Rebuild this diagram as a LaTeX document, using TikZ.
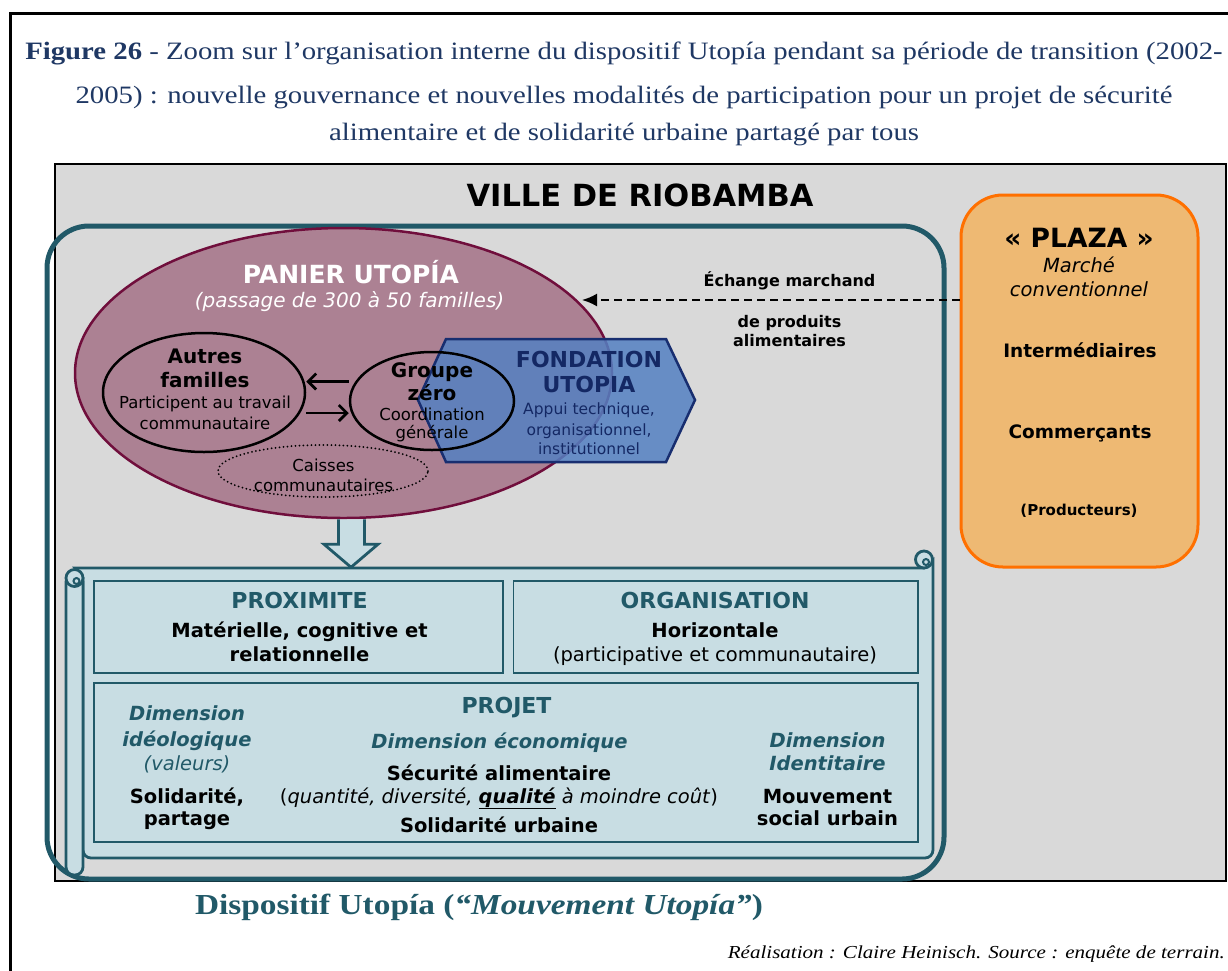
\documentclass[tikz,border=0pt]{standalone}
\usepackage{fontspec}
\setmainfont[FakeStretch=1.15]{Liberation Serif}
\setsansfont{DejaVu Sans}
\usetikzlibrary{arrows.meta,shapes.geometric}

\definecolor{titleblue}{RGB}{31,56,100}
\definecolor{dispteal}{RGB}{33,89,104}
\definecolor{villegray}{RGB}{217,217,217}
\definecolor{panierfill}{RGB}{172,129,147}
\definecolor{panierline}{RGB}{112,14,60}
\definecolor{fondfill}{RGB}{84,128,194}
\definecolor{fondline}{RGB}{24,46,112}
\definecolor{fondtext}{RGB}{20,40,100}
\definecolor{plazafill}{RGB}{238,185,115}
\definecolor{plazaline}{RGB}{255,112,0}
\definecolor{scrollfill}{RGB}{200,221,227}

\newcommand{\fsz}[1]{\fontsize{#1}{#1}\selectfont}

\tikzset{
  every node/.style={inner sep=0pt, anchor=base},
  titleline/.style={text=titleblue, font=\rmfamily\fsz{25}},
  villetxt/.style={font=\sffamily\bfseries\fsz{30.5}},
  panierhead/.style={text=white, font=\sffamily\bfseries\fsz{25}},
  paniersub/.style={text=white, font=\sffamily\itshape\fsz{20}},
  famhead/.style={font=\sffamily\bfseries\fsz{20}},
  famtxt/.style={font=\sffamily\fsz{16.5}},
  fondhead/.style={text=fondtext, font=\sffamily\bfseries\fsz{22}},
  fondtxt/.style={text=fondtext, font=\sffamily\fsz{15.5}},
  echtxt/.style={font=\sffamily\bfseries\fsz{16}},
  plazahead/.style={font=\sffamily\bfseries\fsz{26.5}},
  plazasub/.style={font=\sffamily\itshape\fsz{19.5}},
  plazatxt/.style={font=\sffamily\bfseries\fsz{18.5}},
  scrollhead/.style={text=dispteal, font=\sffamily\bfseries\fsz{22}},
  scrollbold/.style={font=\sffamily\bfseries\fsz{19.5}},
  scrolltxt/.style={font=\sffamily\fsz{19.5}},
  dimhead/.style={text=dispteal, font=\sffamily\bfseries\itshape\fsz{19.5}},
  disptxt/.style={text=dispteal, font=\rmfamily\bfseries\fsz{29}},
  scrollshape/.style={fill=scrollfill, draw=dispteal, line width=2.8pt},
  innerbox/.style={fill=scrollfill, draw=dispteal, line width=1.8pt},
  famarrow/.style={line width=2.8pt, -{Straight Barb[length=8pt,width=16pt]}},
  echarrow/.style={line width=2pt, dash pattern=on 8pt off 5pt, -{Latex[length=15pt,width=13pt]}},
}

\begin{document}
\begin{tikzpicture}[x=1pt, y=-1pt]
  \useasboundingbox (0,0) rectangle (1228,970);

  % ---- Cadre et titre ----
  \draw[line width=3pt] (10,972) -- (10,13) -- (1232,13);
  \node[titleline] (title1) at (624,59) {\textbf{Figure 26} - Zoom sur l’organisation interne du dispositif Utopía pendant sa période de transition (2002-};
  \node[titleline] (title2) at (624,103) {2005) : nouvelle gouvernance et nouvelles modalités de participation pour un projet de sécurité};
  \node[titleline] (title3) at (624,140) {alimentaire et de solidarité urbaine partagé par tous};

  % ---- Ville de Riobamba ----
  \filldraw[fill=villegray, draw=black, line width=2pt] (55,164) rectangle (1226,881);
  \node[villetxt] (ville) at (640,206) {VILLE DE RIOBAMBA};

  % ---- Dispositif Utopia ----
  \draw[dispteal, line width=5pt, rounded corners=42pt] (47,226) rectangle (944,879);

  % ---- Panier Utopia ----
  \node[ellipse, draw=panierline, line width=2.5pt, fill=panierfill,
        minimum width=537pt, minimum height=290pt, anchor=center] (panier) at (343.5,373) {};
  \node[ellipse, draw=black, line width=2.5pt, minimum width=202pt, minimum height=119pt,
        anchor=center] (autres) at (204,392.5) {};
  \node[ellipse, draw=black, line width=2pt, dash pattern=on 0pt off 4pt, line cap=round,
        minimum width=210pt, minimum height=52pt, anchor=center] (caisses) at (323,471) {};

  % Fondation Utopia (hexagone)
  \filldraw[fill=fondfill, fill opacity=0.85, draw=fondline, line width=2.5pt]
    (418,400) -- (446,339) -- (666,339) -- (695,400) -- (666,462) -- (446,462) -- cycle;
  \node[ellipse, draw=black, line width=2.5pt, minimum width=164pt, minimum height=98pt,
        anchor=center] (groupe) at (432,401) {};

  % echanges internes
  \draw[famarrow] ([yshift=19.5pt]groupe.west) -- ([yshift=11pt]autres.east);
  \draw[famarrow] ([yshift=-20.5pt]autres.east) -- ([yshift=-12pt]groupe.west);

  \node[panierhead] (paniertitle) at (351,283) {PANIER UTOPÍA};
  \node[paniersub] (paniersub) at (349.5,307) {(passage de 300 à 50 familles)};
  \node[famhead] (autres1) at (205,363) {Autres};
  \node[famhead] (autres2) at (205,387) {familles};
  \node[famtxt] (autres3) at (205,408) {Participent au travail};
  \node[famtxt] (autres4) at (205,429) {communautaire};
  \node[famtxt] (caisses1) at (323.5,471) {Caisses};
  \node[famtxt] (caisses2) at (323.5,491) {communautaires};
  \node[famhead] (groupe1) at (432,377) {Groupe};
  \node[famhead] (groupe2) at (432,400) {zéro};
  \node[famtxt] (groupe3) at (432,420) {Coordination};
  \node[famtxt] (groupe4) at (432,438) {générale};
  \node[fondhead] (fond1) at (589,367) {FONDATION};
  \node[fondhead] (fond2) at (589,392) {UTOPIA};
  \node[fondtxt] (fond3) at (589,414) {Appui technique,};
  \node[fondtxt] (fond4) at (589,435) {organisationnel,};
  \node[fondtxt] (fond5) at (589,454) {institutionnel};

  % ---- Plaza ----
  \node[draw=plazaline, fill=plazafill, line width=3pt, rounded corners=42pt,
        minimum width=237pt, minimum height=372pt, anchor=center] (plaza) at (1079.5,381) {};
  \node[plazahead] (plaza1) at (1079,247) {« PLAZA »};
  \node[plazasub] (plaza2) at (1079,272) {Marché};
  \node[plazasub] (plaza3) at (1079,296) {conventionnel};
  \node[plazatxt] (plaza4) at (1080,357) {Intermédiaires};
  \node[plazatxt] (plaza5) at (1080,438) {Commerçants};
  \node[font=\sffamily\bfseries\fsz{15}] (plaza6) at (1079,515) {(Producteurs)};

  % Echange marchand
  \coordinate (echtip) at (582,300);
  \draw[echarrow] ([yshift=81pt]plaza.west) -- (echtip);
  \node[echtxt] (ech1) at (789.5,286) {Échange marchand};
  \node[echtxt] (ech2) at (789.5,327) {de produits};
  \node[echtxt] (ech3) at (789.5,346) {alimentaires};

  % ---- Fleche vers le parchemin ----
  \filldraw[fill=scrollfill, draw=dispteal, line width=2.8pt]
    ([xshift=-5pt]panier.south) -- ++(0,25) -- ++(-14.5,0) -- ++(27,23)
    -- ++(27,-23) -- ++(-13.5,0) -- ++(0,-25);

  % ---- Parchemin ----
  \filldraw[scrollshape] (75,568) -- (924,568) -- (933,560) [rounded corners=8pt]
    -- (933,858) -- (83,858) [sharp corners] -- (83,578) -- cycle;
  \filldraw[scrollshape] (924,559.5) circle[radius=8.5pt];
  \draw[dispteal, line width=2pt] (926,562) circle[radius=3pt];
  \filldraw[scrollshape, rounded corners=8pt] (66,574) rectangle (83,875);
  \filldraw[scrollshape] (74.5,578) circle[radius=8.5pt];
  \draw[dispteal, line width=2pt] (76.5,581) circle[radius=3pt];

  \filldraw[innerbox] (94,581) rectangle (503,673);
  \filldraw[innerbox] (513.5,581) rectangle (918,673);
  \filldraw[innerbox] (94,683) rectangle (918,842);

  \node[scrollhead] (prox1) at (299.5,608) {PROXIMITE};
  \node[scrollbold] (prox2) at (299.5,637) {Matérielle, cognitive et};
  \node[scrollbold] (prox3) at (299.5,661) {relationnelle};
  \node[scrollhead] (orga1) at (715,608) {ORGANISATION};
  \node[scrollbold] (orga2) at (715,637) {Horizontale};
  \node[scrolltxt] (orga3) at (715,661) {(participative et communautaire)};

  \node[scrollhead] (projet) at (506.5,713) {PROJET};
  \node[dimhead] (ideo1) at (187,720) {Dimension};
  \node[dimhead] (ideo2) at (187,746) {idéologique};
  \node[scrolltxt, text=dispteal, font=\sffamily\itshape\fsz{19.5}] (ideo3) at (187,770) {(valeurs)};
  \node[scrollbold] (ideo4) at (187,803) {Solidarité,};
  \node[scrollbold] (ideo5) at (187,825) {partage};
  \node[dimhead] (eco1) at (499.5,748) {Dimension économique};
  \node[scrollbold] (eco2) at (499,780) {Sécurité alimentaire};
  \node[scrolltxt] (eco3) at (499,803) {(\textit{quantité, diversité, \underline{\textbf{qualité}} à moindre coût})};
  \node[scrollbold] (eco4) at (499,832) {Solidarité urbaine};
  \node[dimhead] (iden1) at (827.5,747) {Dimension};
  \node[dimhead] (iden2) at (827.5,770) {Identitaire};
  \node[scrollbold] (iden3) at (827.5,803) {Mouvement};
  \node[scrollbold] (iden4) at (827.5,825) {social urbain};

  % ---- Legende ----
  \node[disptxt] (dispositif) at (479,914) {Dispositif Utopía (\textit{“Mouvement Utopía”})};
  \node[anchor=base east, font=\rmfamily\itshape\fsz{18.3}] (source) at (1225,958)
    {Réalisation : Claire Heinisch. Source : enquête de terrain.};

\end{tikzpicture}
\end{document}
